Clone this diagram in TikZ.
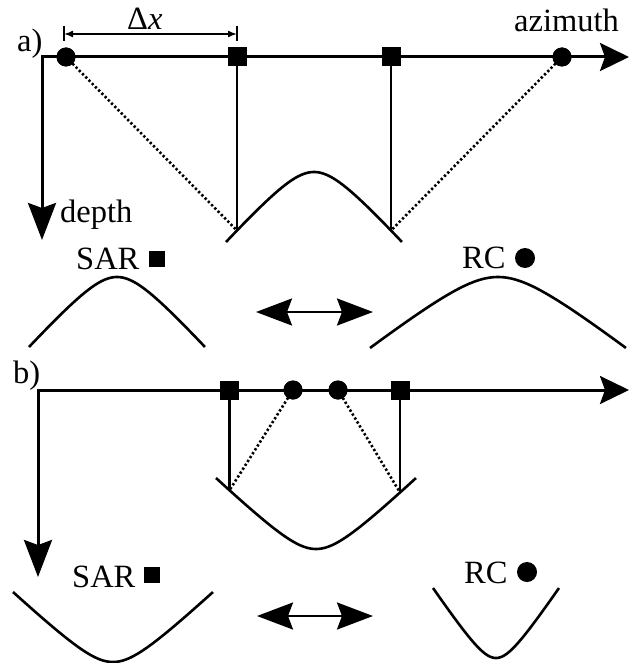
\documentclass[tikz,border=0pt]{standalone}
\usepackage{fontspec}
\setmainfont{Liberation Serif}
\usetikzlibrary{arrows.meta}
\begin{document}
\begin{tikzpicture}[x=1pt,y=-1pt,
  declare function={hyp(\t,\k)=(sqrt(\k*\k+\t*\t)-\k)/(sqrt(\k*\k+1)-\k);},
  lbl/.style={font=\fontsize{32.5}{34}\selectfont, inner sep=0pt, anchor=base west},
  axes/.style={line width=3pt, line join=miter,
    arrows={Stealth[length=37pt,width=28pt,inset=5pt]-Stealth[length=29pt,width=28pt,inset=5pt]}},
  wave/.style={line width=2.6pt},
  stem/.style={line width=2.5pt},
  dotray/.style={line width=2.6pt, dash pattern=on 2.3pt off 2.3pt},
  sqmark/.style={rectangle, fill=black, minimum size=19pt, inner sep=0pt},
  circmark/.style={circle, fill=black, minimum size=19pt, inner sep=0pt},
  smallsq/.style={rectangle, fill=black, minimum size=16pt, inner sep=0pt},
  smallcirc/.style={circle, fill=black, minimum size=20pt, inner sep=0pt},
  dim/.style={line width=1.5pt},
  dbl/.style={line width=2.4pt,
    arrows={Stealth[length=36pt,width=27pt,inset=5pt]-Stealth[length=36pt,width=27pt,inset=5pt]}},
]
\useasboundingbox (0,0) rectangle (630,663);

% ---------- part a ----------
\coordinate (oa) at (42,57);
\coordinate (aza) at (629,57);
\coordinate (dpa) at (42,240);
\draw[axes] (dpa) -- (oa) -- (aza);

\node[lbl] (labA) at (17,52) {a)};
\node[lbl] (azl) at (514,32) {azimuth};
\node[lbl] (dpl) at (60,222) {depth};

% curve a
\draw[wave] plot[domain=-1:1,samples=81] ({314+88*\x},{172+70*hyp(\x,0.341)});
\coordinate (ea1) at (237,{172+70*hyp(-77/88,0.341)});
\coordinate (ea2) at (391,{172+70*hyp(77/88,0.341)});

\node[circmark] (ca1) at (66,57) {};
\node[circmark] (ca2) at (562,57) {};
\draw[dotray] (ca1.center) -- (ea1);
\draw[dotray] (ca2.center) -- (ea2);
\node[circmark] at (66,57) {};
\node[circmark] at (562,57) {};
\node[sqmark] (sa1) at (237,57) {};
\node[sqmark] (sa2) at (391,57) {};
\draw[stem] (sa1.center) -- (ea1);
\draw[stem] (sa2.center) -- (ea2);

% delta x
\coordinate (dxL) at (64,34);
\coordinate (dxR) at (237,34);
\draw[dim] (64,26.5) -- (64,41.5);
\draw[dim] (237,26.5) -- (237,41.5);
\draw[dim, {Latex[length=9pt,width=7pt]}-{Latex[length=9pt,width=7pt]}] (dxL) -- (dxR);
\node[lbl] (dxl) at (127,30) {Δ\textit{x}};

% SAR / RC a
\node[lbl] (sarA) at (76,269) {SAR};
\node[smallsq] (sarAm) at (157,259) {};
\node[lbl] (rcA) at (462,268) {RC};
\node[smallcirc] (rcAm) at (525,258) {};
\draw[wave] plot[domain=-1:1,samples=81] ({117+88*\x},{277+70*hyp(\x,0.341)});
\draw[wave] plot[domain=-1:1,samples=81] ({498+128*\x},{277+71*hyp(\x,0.341)});
\coordinate (da1) at (256,312);
\coordinate (da2) at (373,312);
\draw[dbl] (da1) -- (da2);

% ---------- part b ----------
\coordinate (ob) at (38,390);
\coordinate (azb) at (629,390);
\coordinate (dpb) at (38,577);
\draw[axes] (dpb) -- (ob) -- (azb);
\node[lbl] (labB) at (13,383) {b)};

\draw[wave] plot[domain=-1:1,samples=81] ({316+100*\x},{549-71*hyp(\x,0.3)});
\coordinate (eb1) at (229.5,{549-71*hyp(-0.865,0.3)});
\coordinate (eb2) at (400,{549-71*hyp(0.84,0.3)});

\node[circmark] (cb1) at (293,390) {};
\node[circmark] (cb2) at (338,390) {};
\draw[dotray] (cb1.center) -- (eb1);
\draw[dotray] (cb2.center) -- (eb2);
\node[circmark] at (293,390) {};
\node[circmark] at (338,390) {};
\node[sqmark] (sb1) at (229.5,390) {};
\node[sqmark] (sb2) at (400,390) {};
\draw[stem] (sb1.center) -- (eb1);
\draw[stem] (sb2.center) -- (eb2);

\node[lbl] (sarB) at (72,587) {SAR};
\node[smallsq] (sarBm) at (152,575) {};
\node[lbl] (rcB) at (464,583) {RC};
\node[smallcirc] (rcBm) at (527,572) {};
\draw[wave] plot[domain=-1:1,samples=81] ({113+100*\x},{662-70*hyp(\x,0.3)});
\draw[wave] plot[domain=-1:1,samples=81] ({496+63*\x},{658-70*hyp(\x,0.3)});
\coordinate (db1) at (257,616);
\coordinate (db2) at (373,616);
\draw[dbl] (db1) -- (db2);
\end{tikzpicture}
\end{document}
